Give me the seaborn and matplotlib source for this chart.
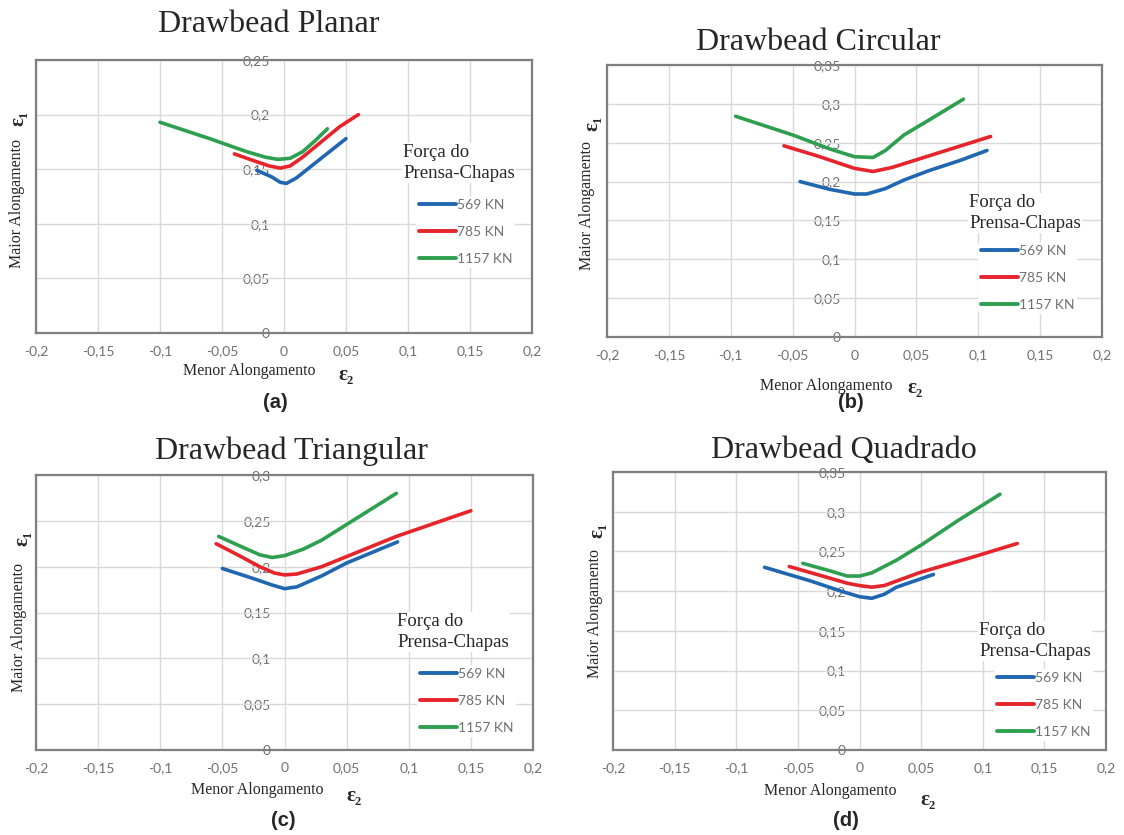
import pandas as pd
import numpy as np
import seaborn as sns
import matplotlib.pyplot as plt
from matplotlib.ticker import MultipleLocator, FuncFormatter

# forces (legend entries)
forces = ["569 KN", "785 KN", "1157 KN"]
colors = ["#2166b0", "#e5242b", "#2e9e4f"]

# (a) Drawbead Planar
planar_569_x = [-0.022, -0.01, -0.003, 0.002, 0.01, 0.03, 0.05]
planar_569_y = [0.149, 0.143, 0.138, 0.137, 0.142, 0.160, 0.178]
planar_785_x = [-0.04, -0.025, -0.012, -0.003, 0.005, 0.015, 0.03, 0.045, 0.06]
planar_785_y = [0.164, 0.158, 0.153, 0.151, 0.153, 0.161, 0.175, 0.189, 0.200]
planar_1157_x = [-0.1, -0.06, -0.03, -0.015, -0.005, 0.005, 0.015, 0.025, 0.035]
planar_1157_y = [0.193, 0.178, 0.166, 0.161, 0.159, 0.160, 0.166, 0.176, 0.187]

# (b) Drawbead Circular
circ_569_x = [-0.044, -0.02, 0.0, 0.01, 0.025, 0.04, 0.06, 0.085, 0.107]
circ_569_y = [0.200, 0.190, 0.184, 0.184, 0.191, 0.202, 0.214, 0.227, 0.240]
circ_785_x = [-0.057, -0.03, 0.0, 0.015, 0.03, 0.05, 0.08, 0.11]
circ_785_y = [0.246, 0.233, 0.217, 0.213, 0.218, 0.228, 0.243, 0.258]
circ_1157_x = [-0.096, -0.05, -0.02, 0.0, 0.015, 0.025, 0.04, 0.06, 0.088]
circ_1157_y = [0.284, 0.260, 0.242, 0.232, 0.231, 0.240, 0.260, 0.279, 0.306]

# (c) Drawbead Triangular
tri_569_x = [-0.05, -0.025, -0.01, 0.0, 0.01, 0.03, 0.05, 0.091]
tri_569_y = [0.198, 0.187, 0.180, 0.176, 0.178, 0.190, 0.204, 0.227]
tri_785_x = [-0.055, -0.035, -0.02, -0.008, 0.0, 0.01, 0.03, 0.05, 0.09, 0.15]
tri_785_y = [0.225, 0.211, 0.200, 0.193, 0.191, 0.192, 0.200, 0.211, 0.233, 0.261]
tri_1157_x = [-0.053, -0.035, -0.02, -0.01, 0.0, 0.015, 0.03, 0.05, 0.07, 0.09]
tri_1157_y = [0.233, 0.222, 0.213, 0.210, 0.212, 0.219, 0.229, 0.246, 0.263, 0.280]

# (d) Drawbead Quadrado
quad_569_x = [-0.077, -0.04, -0.015, 0.0, 0.01, 0.02, 0.03, 0.06]
quad_569_y = [0.230, 0.213, 0.200, 0.193, 0.191, 0.196, 0.205, 0.221]
quad_785_x = [-0.057, -0.03, -0.01, 0.0, 0.01, 0.02, 0.05, 0.09, 0.128]
quad_785_y = [0.231, 0.219, 0.210, 0.207, 0.205, 0.207, 0.224, 0.242, 0.260]
quad_1157_x = [-0.046, -0.025, -0.01, 0.0, 0.01, 0.03, 0.05, 0.08, 0.114]
quad_1157_y = [0.235, 0.226, 0.219, 0.219, 0.223, 0.239, 0.258, 0.289, 0.322]

panels = [
    ("Drawbead Planar", "(a)", 0.25,
     [(planar_569_x, planar_569_y), (planar_785_x, planar_785_y), (planar_1157_x, planar_1157_y)]),
    ("Drawbead Circular", "(b)", 0.35,
     [(circ_569_x, circ_569_y), (circ_785_x, circ_785_y), (circ_1157_x, circ_1157_y)]),
    ("Drawbead Triangular", "(c)", 0.30,
     [(tri_569_x, tri_569_y), (tri_785_x, tri_785_y), (tri_1157_x, tri_1157_y)]),
    ("Drawbead Quadrado", "(d)", 0.35,
     [(quad_569_x, quad_569_y), (quad_785_x, quad_785_y), (quad_1157_x, quad_1157_y)]),
]

# layout, in reference pixels (1124 x 835, from top-left)
axes_px = [(36, 60, 532, 333), (607, 65, 1102, 337), (36, 475, 533, 750), (613, 472, 1106, 750)]
title_xy = [(269, 24), (818, 43), (291, 451), (844, 451)]
letter_xy = [(275, 403), (851, 403), (283, 821), (846, 821)]
xlab_xy = [(249, 371), (826, 386), (257, 790), (830, 791)]
eps2_xy = [(346, 375), (915, 388), (354, 796), (928, 800)]
ylab_xy = [(17, 203), (587, 206), (19, 628), (595, 613)]
eps1_xy = [(18, 118), (592, 123), (22, 538), (597, 530)]
legtitle_xy = [(403, 163), (969, 213), (397, 632), (979, 641)]
leghandle_xy = [(418, 232), (980, 278), (419, 701), (996, 705)]

W, H = 1124, 835
sns.set_style("whitegrid")
plt.rcParams['font.family'] = ['Lato', 'DejaVu Sans']

fig = plt.figure(figsize=(W / 100, H / 100), dpi=100)


def comma_fmt(v, pos):
    if abs(v) < 1e-9:
        return "0"
    s = f"{v:.2f}".rstrip('0').rstrip('.')
    return s.replace('.', ',')


def fx(px):
    return px / W


def fy(py):
    return 1 - py / H


serif = ['Liberation Serif', 'DejaVu Serif']
tick_grey = "#707070"

for i, (title, letter, ymax, series) in enumerate(panels):
    l, t, r, b = axes_px[i]
    ax = fig.add_axes([fx(l), fy(b), (r - l) / W, (b - t) / H])
    rows = []
    for force, (xs, ys) in zip(forces, series):
        for x, y in zip(xs, ys):
            rows.append({"e2": x, "e1": y, "Força": force})
    df = pd.DataFrame(rows)
    sns.lineplot(data=df, x="e2", y="e1", hue="Força", hue_order=forces,
                 palette=dict(zip(forces, colors)), sort=False, estimator=None,
                 linewidth=2.6, ax=ax)

    ax.set_xlim(-0.2, 0.2)
    ax.set_ylim(0, ymax)
    ax.xaxis.set_major_locator(MultipleLocator(0.05))
    ax.yaxis.set_major_locator(MultipleLocator(0.05))
    ax.xaxis.set_major_formatter(FuncFormatter(comma_fmt))
    ax.grid(True, color="#d9d9d9", linewidth=1.0)
    ax.tick_params(axis='x', length=0, pad=9, labelsize=10, labelcolor=tick_grey)
    ax.tick_params(axis='y', length=0, labelleft=False)
    ax.set_xlabel("")
    ax.set_ylabel("")
    for s in ax.spines.values():
        s.set_color("#7f7f7f")
        s.set_linewidth(1.6)

    # y tick labels sit just left of the x = 0 line, Excel style
    sec = ax.secondary_yaxis(0.5)
    sec.set_alignment('left')
    sec.yaxis.set_major_locator(MultipleLocator(0.05))
    sec.yaxis.set_major_formatter(FuncFormatter(comma_fmt))
    sec.tick_params(length=0, pad=10, labelsize=10, labelcolor=tick_grey)
    for s in sec.spines.values():
        s.set_visible(False)

    # legend entries
    old = ax.get_legend()
    handles = old.legend_handles
    labels = [tx.get_text() for tx in old.get_texts()]
    old.remove()
    hx, hy = leghandle_xy[i]
    leg = ax.legend(handles, labels, loc="center left",
                    bbox_to_anchor=(fx(hx - 9), fy(hy)), bbox_transform=fig.transFigure,
                    frameon=True, facecolor="white", edgecolor="none", framealpha=1,
                    fontsize=10, labelspacing=1.07, handlelength=2.65,
                    handletextpad=0.1, borderpad=0.2)
    for tx in leg.get_texts():
        tx.set_color(tick_grey)
    for h in leg.legend_handles:
        h.set_linewidth(2.8)

    # legend title
    fig.text(fx(legtitle_xy[i][0]), fy(legtitle_xy[i][1]), "Força do\nPrensa-Chapas",
             ha="left", va="center", fontsize=13.5, family=serif, linespacing=1.25,
             bbox=dict(facecolor="white", edgecolor="none", pad=1))

    # texts around the panel
    fig.text(fx(title_xy[i][0]), fy(title_xy[i][1]), title, ha="center", va="center",
             fontsize=23, family=serif)
    fig.text(fx(letter_xy[i][0]), fy(letter_xy[i][1]), letter, ha="center", va="center",
             fontsize=14.5, fontweight="bold", family=['Liberation Sans', 'DejaVu Sans'])
    fig.text(fx(xlab_xy[i][0]), fy(xlab_xy[i][1]), "Menor Alongamento", ha="center",
             va="center", fontsize=11.5, family=serif)
    fig.text(fx(eps2_xy[i][0]), fy(eps2_xy[i][1]), "ε₂", ha="center", va="center",
             fontsize=15, fontweight="bold", family=serif)
    fig.text(fx(ylab_xy[i][0]), fy(ylab_xy[i][1]), "Maior Alongamento", ha="center",
             va="center", rotation=90, fontsize=11.5, family=serif)
    fig.text(fx(eps1_xy[i][0]), fy(eps1_xy[i][1]), "ε₁", ha="center", va="center",
             rotation=90, fontsize=15, fontweight="bold", family=serif)

fig.savefig("out.png", dpi=100)
